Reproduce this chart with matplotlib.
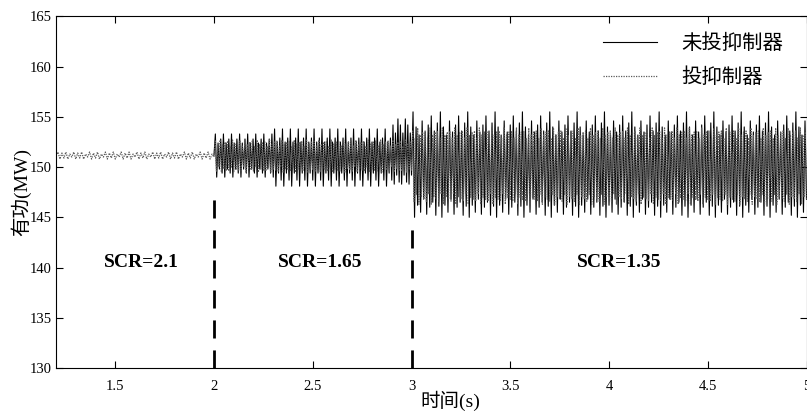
import matplotlib
matplotlib.use("Agg")
import matplotlib.pyplot as plt
import numpy as np

plt.rcParams['font.family'] = ['Liberation Serif', 'Noto Sans CJK SC', 'DejaVu Sans']

# segment boundaries (s)
seg_t = [1.2, 2.0, 3.0, 5.0]
scr_labels = ["SCR=2.1", "SCR=1.65", "SCR=1.35"]
scr_x = [1.63, 2.54, 4.05]

# 未投抑制器 (black): sub-segments, number of cycles and repeating peak/trough pattern
black_start = 151.2
black_t = [2.0, 2.3, 2.9, 3.0, 5.0]
black_cycles = [22, 45, 8, 130]
black_top = [[153.3, 152.4, 152.8],
             [153.8, 152.5, 152.9],
             [154.2, 153.4, 154.8],
             [155.5, 154.0, 153.2, 154.6, 153.5, 154.2, 155.1, 153.6, 154.4]]
black_bot = [[149.0, 149.8, 149.4],
             [148.1, 149.4, 148.7],
             [148.3, 149.2, 148.5],
             [145.0, 146.2, 145.5, 146.8, 145.3, 146.0, 146.5, 145.2, 146.1]]

# 投抑制器 (gray dotted): repeating cycle pattern per segment and number of cycles
gray_cycles = [40, 80, 160]
gray_top = [[151.5, 151.4, 151.5, 151.3],
            [152.6, 152.1, 152.7, 152.3, 152.5],
            [153.6, 152.9, 153.9, 153.2, 153.5]]
gray_bot = [[150.8, 150.9, 150.8, 151.0],
            [149.6, 150.0, 149.5, 149.8, 149.7],
            [146.6, 147.3, 146.3, 147.0, 146.8]]

# dashed boundary lines: top of each dash line
bound_x = [2.0, 3.0]
bound_top = [147.4, 144.0]


def zigzag(t0, t1, tops, bots):
    y = np.empty(2 * len(tops))
    y[0::2] = tops
    y[1::2] = bots
    x = np.linspace(t0, t1, len(y) + 1)[1:]
    return x, y


# black series
bx = [np.array([black_t[0]])]
by = [np.array([black_start])]
for i, n in enumerate(black_cycles):
    x, y = zigzag(black_t[i], black_t[i + 1],
                  np.resize(black_top[i], n), np.resize(black_bot[i], n))
    bx.append(x)
    by.append(y)
bx = np.concatenate(bx)
by = np.concatenate(by)

# gray series
gx = [np.array([seg_t[0]])]
gy = [np.array([151.1])]
for i, n in enumerate(gray_cycles):
    x, y = zigzag(seg_t[i], seg_t[i + 1], np.resize(gray_top[i], n), np.resize(gray_bot[i], n))
    gx.append(x)
    gy.append(y)
gx = np.concatenate(gx)
gy = np.concatenate(gy)

fig = plt.figure(figsize=(8.07, 4.12), dpi=100)
ax = fig.add_axes([0.0694, 0.107, 0.93, 0.853])

ax.plot(bx, by, color='black', lw=0.8, label='未投抑制器')
ax.plot(gx, gy, color='#5a5a5a', lw=0.9, ls=(0, (1, 1)), label='投抑制器')

for x, top in zip(bound_x, bound_top):
    ax.plot([x, x], [130, top], color='black', lw=2, dashes=(6.5, 4.3))

for xm, lab in zip(scr_x, scr_labels):
    ax.text(xm, 140.5, lab, ha='center', va='center', fontsize=14,
            fontweight='bold', family='Liberation Serif')

ax.set_xlim(1.2, 5)
ax.set_ylim(130, 165)
ax.set_xticks([1.5, 2, 2.5, 3, 3.5, 4, 4.5, 5])
ax.set_xticklabels(['1.5', '2', '2.5', '3', '3.5', '4', '4.5', '5'])
ax.set_yticks([130, 135, 140, 145, 150, 155, 160, 165])
ax.tick_params(direction='in', top=True, right=True, length=5, labelsize=10.5)
ax.tick_params(axis='x', pad=9)
ax.tick_params(axis='y', pad=3)

ax.set_xlabel('时间(s)', fontsize=14)
ax.xaxis.set_label_coords(0.525, -0.064)
ax.set_ylabel('有功(MW)', fontsize=14)
ax.yaxis.set_label_coords(-0.033, 0.5)

ax.legend(loc='upper right', frameon=False, handlelength=2.6,
          handletextpad=1.2, labelspacing=0.62, bbox_to_anchor=(0.993, 1.004),
          prop={'family': ['Noto Sans CJK SC'], 'size': 14.7})

fig.savefig('out.png', dpi=100)
